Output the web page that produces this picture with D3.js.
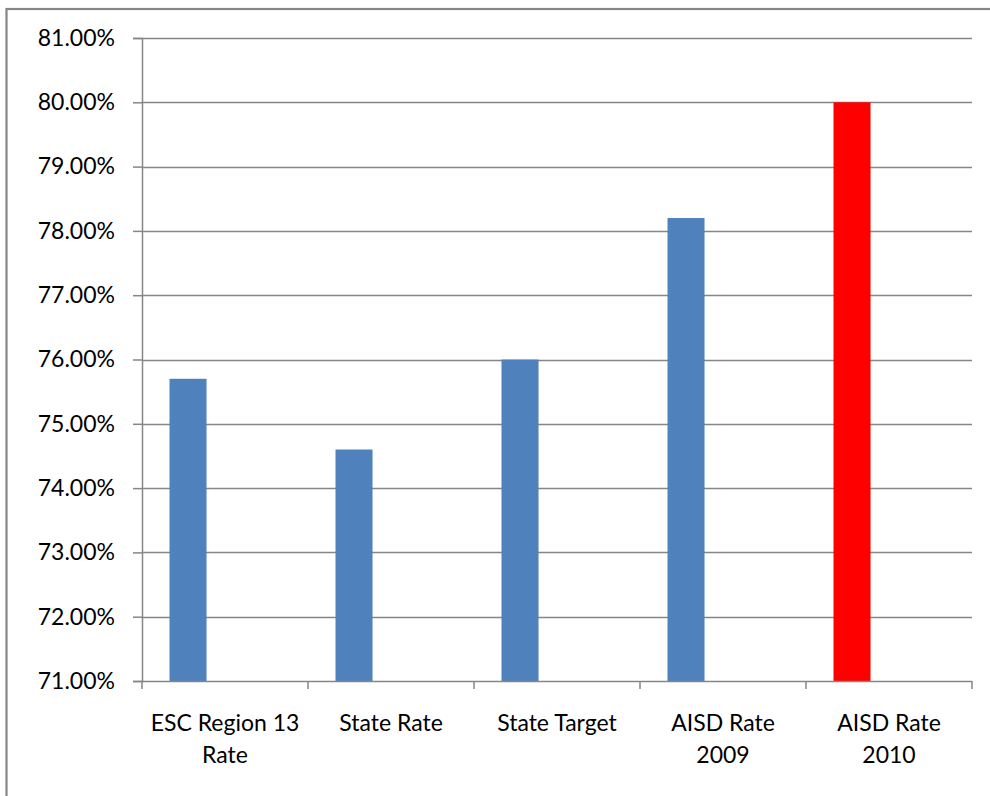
<!DOCTYPE html>
<html><head><meta charset="utf-8">
<script src="https://cdn.jsdelivr.net/npm/d3@7"></script>
<style>html,body{margin:0;padding:0;background:#fff;}svg{display:block;}</style>
</head><body>
<svg id="c" width="990" height="796"></svg>
<script>
const categories = [["ESC Region 13","Rate"],["State Rate"],["State Target"],["AISD Rate","2009"],["AISD Rate","2010"]];
const values = [75.7, 74.6, 76.0, 78.2, 80.0];
const barColors = ["#4F81BD","#4F81BD","#4F81BD","#4F81BD","#FF0000"];
const yTicks = [71,72,73,74,75,76,77,78,79,80,81];

(function(){
const svg = d3.select("#c");
const font = "Lato, 'Open Sans', sans-serif";
svg.append("rect").attr("x",6.5).attr("y",9).attr("width",1000).attr("height",800)
  .attr("fill","none").attr("stroke","#868686").attr("stroke-width",2.2);

const pL=142, pR=972, pT=38, pB=681;
const x = d3.scaleBand().domain(d3.range(categories.length)).range([pL,pR]);
const y = d3.scaleLinear().domain([71,81]).range([pB,pT]);

svg.append("g").selectAll("line").data(yTicks.slice(1)).join("line")
  .attr("x1",pL).attr("x2",pR).attr("y1",d=>Math.round(y(d))+0.5).attr("y2",d=>Math.round(y(d))+0.5)
  .attr("stroke","#868686").attr("stroke-width",1.5);

svg.append("g").selectAll("rect").data(values).join("rect")
  .attr("x",(d,i)=>x(i)+x.bandwidth()*0.1657)
  .attr("width",x.bandwidth()*0.223)
  .attr("y",d=>y(d)).attr("height",d=>pB-y(d))
  .attr("fill",(d,i)=>barColors[i]);

const ya = svg.append("g").attr("transform",`translate(${pL},0)`)
  .call(d3.axisLeft(y).tickValues(yTicks).tickSize(9).tickPadding(18).tickFormat(d=>d3.format(".2f")(d)+"%"));
ya.select(".domain").attr("stroke","#868686").attr("stroke-width",1.5);
ya.selectAll(".tick line").attr("stroke","#868686").attr("stroke-width",1.5);
ya.selectAll("text").attr("font-family",font).attr("font-size",23).attr("fill","#000");

const xa = svg.append("g").attr("transform",`translate(0,${pB})`);
xa.append("line").attr("x1",pL).attr("x2",pR).attr("y1",0.5).attr("y2",0.5)
  .attr("stroke","#868686").attr("stroke-width",1.5);
const bounds = d3.range(categories.length+1).map(i=> i<categories.length ? x(i) : pR);
xa.selectAll("line.t").data(bounds).join("line").attr("class","t")
  .attr("x1",d=>d).attr("x2",d=>d).attr("y1",0).attr("y2",8)
  .attr("stroke","#868686").attr("stroke-width",1.5);
const lbl = xa.selectAll("text").data(categories).join("text")
  .attr("text-anchor","middle").attr("font-family",font).attr("font-size",23).attr("fill","#000");
lbl.each(function(lines,i){
  const t=d3.select(this);
  lines.forEach((s,j)=>t.append("tspan").attr("x",x(i)+x.bandwidth()/2).attr("y",50+j*32).text(s));
});
})();
</script>
</body></html>
